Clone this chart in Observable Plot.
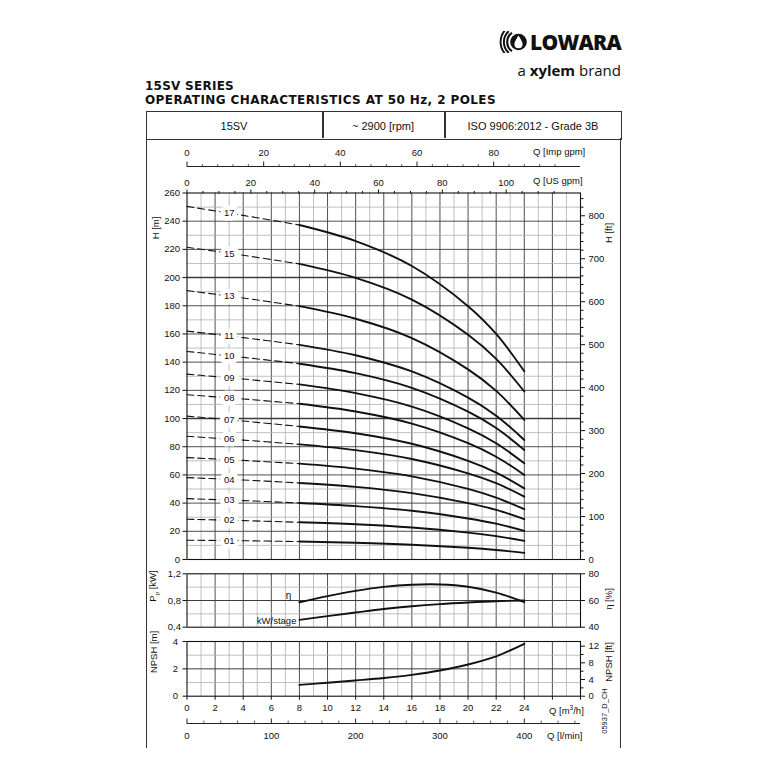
<!DOCTYPE html>
<html><head><meta charset="utf-8">
<script src="https://cdn.jsdelivr.net/npm/d3@7"></script>
<script src="https://cdn.jsdelivr.net/npm/@observablehq/plot@0.6"></script>
<style>
html,body{margin:0;padding:0;background:#fff;}
#root{position:relative;width:768px;height:768px;overflow:hidden;font-family:"Liberation Sans",Arial,sans-serif;color:#111;}
#root svg{position:absolute;left:0;}
.t{position:absolute;line-height:1;white-space:nowrap;}
</style></head><body><div id="root"></div>
<script>
// ---------------- DATA ----------------
const qHead = [0, 4, 8, 12, 16, 20, 22, 24];              // Q [m3/h]
const stageNames = ["01","02","03","04","05","06","07","08","09","10","11","13","15","17"];
const h01 = [13.7, 13.3, 12.75, 11.9, 10.5, 8.3, 6.75, 4.7];
const h02 = [28.6, 27.6, 26.4, 25.0, 22.7, 19.1, 16.6, 13.2];
const h03 = [43.2, 41.8, 40.1, 37.9, 34.6, 29.1, 25.4, 20.3];
const h04 = [58.1, 56.4, 54.3, 51.5, 47.1, 40.0, 35.2, 28.6];
const h05 = [72.3, 70.3, 68.0, 64.5, 59.0, 50.1, 43.9, 35.7];
const h06 = [87.4, 84.7, 81.7, 77.6, 71.3, 61.1, 54.1, 44.6];
const h07 = [101.7, 98.2, 94.4, 89.6, 82.1, 70.0, 61.7, 50.5];
const h08 = [116.9, 113.9, 110.5, 105.0, 96.4, 82.5, 72.9, 60.0];
const h09 = [131.5, 128.0, 124.2, 118.0, 108.5, 93.1, 82.5, 68.2];
const h10 = [147.6, 143.4, 138.9, 132.2, 121.8, 104.9, 93.3, 77.7];
const h11 = [162.0, 157.4, 152.3, 144.9, 133.4, 114.8, 102.0, 84.8];
const h13 = [190.8, 185.5, 179.7, 170.8, 157.1, 134.9, 119.6, 99.0];
const h15 = [221.5, 215.8, 209.7, 199.8, 184.4, 159.5, 142.3, 119.2];
const h17 = [250.5, 244.1, 237.3, 225.9, 208.2, 179.7, 160.0, 133.5];
const headSeries = [h01,h02,h03,h04,h05,h06,h07,h08,h09,h10,h11,h13,h15,h17];
const qDutyStart = 8;      // start of the solid (recommended) range
const labelQ = 3;          // where stage numbers sit

const qEff = [8, 10, 12, 14, 16, 18, 20, 22, 24];
const etaPct  = [58.7, 63.3, 67.2, 70.2, 71.8, 72.0, 70.3, 65.9, 58.7];
const kwStage = [0.51, 0.566, 0.62, 0.672, 0.714, 0.746, 0.770, 0.789, 0.80];
const npshM   = [0.83, 0.98, 1.15, 1.33, 1.56, 1.88, 2.32, 2.92, 3.83];

// tick labels
const hTicks = d3.range(0, 261, 20);
const hGridMinor = d3.range(10, 260, 20);
const hGridMajor = d3.range(20, 260, 20);
const ftMajor = d3.range(0, 801, 100);
const ftMinor = d3.range(0, 853, 20).filter(d => d % 100);
const usMajor = [0, 20, 40, 60, 80, 100];
const usMinor = d3.range(0, 121, 5).filter(d => d % 20);
const impMajor = [0, 20, 40, 60, 80];
const impMinor = d3.range(0, 101, 4).filter(d => d % 20);
const lminMajor = [0, 100, 200, 300, 400];
const lminMinor = d3.range(0, 461, 20).filter(d => d % 100);
const qMajorTicks = d3.range(0, 29, 2);
const qLabelMax = 24;
const qGridOdd = d3.range(1, 28, 2);
const qGridEven = d3.range(2, 28, 2);
const kwTicks = [0.4, 0.8, 1.2];
const kwGridMinor = [0.6, 1.0];
const kwGridMajor = [0.8];
const etaTicks = [40, 60, 80];
const npshTicks = [0, 2, 4];
const npshGridMinor = [1, 3];
const npshGridMajor = [2];
const npshFtMajor = [0, 4, 8, 12];
const npshFtMinor = [2, 6, 10];

// unit conversions
const IMP = 3.6662, USG = 4.4029, LMIN = 16.6667, FT = 0.3048;

// ---------------- helpers ----------------
const root = document.getElementById("root");
const FONT = "Liberation Sans, Arial, sans-serif";
const FX0 = 186.5, FX1 = 580;
const comma = d => d.toFixed(1).replace(".", ",");
const CURVE = "catmull-rom";

function addSvg(svg, top) { svg.style.top = top + "px"; root.appendChild(svg); }
function panel(opts) {
  return Plot.plot({
    width: 768, marginLeft: FX0, marginRight: 768 - FX1,
    x: {domain: [0, 28], axis: null},
    style: {fontFamily: FONT, fontSize: "9.5px", color: "#111", background: "transparent", overflow: "visible"},
    ...opts
  });
}
function gridX() {
  return [
    Plot.ruleX(qGridOdd, {stroke: "#b0b0b0", strokeWidth: 0.8}),
    Plot.ruleX(qGridEven, {stroke: "#3c3c3c", strokeWidth: 0.9})
  ];
}
function txt(html, x, y, o = {}) {
  const d = document.createElement("div");
  d.className = "t";
  d.innerHTML = html;
  d.style.left = x + "px"; d.style.top = y + "px";
  d.style.fontSize = (o.size || 9.5) + "px";
  if (o.weight) d.style.fontWeight = o.weight;
  if (o.family) d.style.fontFamily = o.family;
  const ax = o.anchor === "middle" ? "-50%" : o.anchor === "end" ? "-100%" : "0";
  d.style.transform = o.rotate ? `translate(-50%,-50%) rotate(${o.rotate}deg)` : `translate(${ax},-50%)`;
  root.appendChild(d);
  if (o.fit) {
    const w = d.getBoundingClientRect().width;
    const n = d.textContent.length;
    d.style.letterSpacing = ((o.fit - w) / (n)) + "px";
  }
  return d;
}

// ---------------- header ----------------
const logo = document.createElementNS("http://www.w3.org/2000/svg", "svg");
logo.setAttribute("width", 30); logo.setAttribute("height", 22);
logo.setAttribute("viewBox", "0 0 30 22");
logo.style.left = "498px"; logo.style.top = "31px";
function arcPath(cx, cy, r, a0, a1) {
  const p = a => [cx + r * Math.cos(a * Math.PI / 180), cy + r * Math.sin(a * Math.PI / 180)];
  const [x0, y0] = p(a0), [x1, y1] = p(a1);
  return `M${x0.toFixed(2)} ${y0.toFixed(2)} A${r} ${r} 0 0 0 ${x1.toFixed(2)} ${y1.toFixed(2)}`;
}
logo.innerHTML = `
 <circle cx="20.5" cy="11" r="8.3" fill="#111"/>
 <path d="M20.5 4.6 C18 8.8 16.4 11.2 16.4 13.2 A4.1 4.1 0 0 0 24.6 13.2 C24.6 11.2 23 8.8 20.5 4.6 Z" fill="#fff"/>
 <path d="${arcPath(20.5, 11, 11.3, -125, 125)}" fill="none" stroke="#111" stroke-width="2.1"/>
 <path d="${arcPath(20.5, 11, 14.6, -132, 132)}" fill="none" stroke="#111" stroke-width="2.0"/>
 <path d="${arcPath(20.5, 11, 17.9, -140, 140)}" fill="none" stroke="#111" stroke-width="1.9"/>`;
root.appendChild(logo);
txt("LOWARA", 530, 42, {size: 21, weight: 800, family: "Open Sans, sans-serif", fit: 91});
txt('a <b style="font-weight:700">xylem</b> brand', 621, 70, {size: 15, anchor: "end", family: "Open Sans, sans-serif"});
txt("15SV SERIES", 145, 86, {size: 12, weight: 700, family: "DejaVu Sans, sans-serif", fit: 89});
txt("OPERATING CHARACTERISTICS AT 50 Hz, 2 POLES", 145, 99.5, {size: 12, weight: 700, family: "DejaVu Sans, sans-serif", fit: 351});

// table + frame
const box = document.createElement("div");
box.style.cssText = "position:absolute;left:145.5px;top:110.5px;width:474px;height:27px;border:1.3px solid #333;";
root.appendChild(box);
for (const xv of [322.3, 444.3]) {
  const v = document.createElement("div");
  v.style.cssText = `position:absolute;left:${xv}px;top:111px;width:1.3px;height:27px;background:#333;`;
  root.appendChild(v);
}
for (const xv of [145.5, 619.8]) {
  const v = document.createElement("div");
  v.style.cssText = `position:absolute;left:${xv}px;top:138px;width:1.3px;height:610px;background:#333;`;
  root.appendChild(v);
}
txt("15SV", 234, 125.5, {size: 11, anchor: "middle"});
txt("~ 2900 [rpm]", 383, 125.5, {size: 11, anchor: "middle"});
txt("ISO 9906:2012 - Grade 3B", 533, 125.5, {size: 11, anchor: "middle"});

// ---------------- Imp gpm strip ----------------
addSvg(panel({
  height: 30, marginTop: 0, marginBottom: 0,
  y: {domain: [0, 30], range: [0, 30], axis: null},
  marks: [
    Plot.ruleY([26], {stroke: "#222", strokeWidth: 1}),
    Plot.ruleX(impMajor, {x: d => d / IMP, y1: 26, y2: 21.5, stroke: "#222"}),
    Plot.ruleX(impMinor, {x: d => d / IMP, y1: 26, y2: 24, stroke: "#222", strokeWidth: 0.7}),
    Plot.text(impMajor, {x: d => d / IMP, y: 12, text: d => d, fontSize: 9.5})
  ]
}), 140);
txt("Q [Imp gpm]", 533, 152, {size: 9.5});
txt("Q [US gpm]", 533, 181, {size: 9.5});

// ---------------- Head panel ----------------
const headRows = [];
const labelRows = [];
stageNames.forEach((s, i) => {
  const hs = headSeries[i];
  qHead.forEach((q, j) => headRows.push({stage: s, q, h: hs[j]}));
  const j0 = 0, j8 = qHead.indexOf(qDutyStart);
  labelRows.push({stage: s, q: labelQ, h: hs[j0] + (hs[j8] - hs[j0]) * (labelQ - qHead[j0]) / (qHead[j8] - qHead[j0])});
});
addSvg(panel({
  height: 410, marginTop: 32.5, marginBottom: 11,
  y: {domain: [0, 260], axis: null},
  marks: [
    ...gridX(),
    Plot.ruleY(hGridMinor, {stroke: "#b0b0b0", strokeWidth: 0.8}),
    Plot.ruleY(hGridMajor, {stroke: "#3c3c3c", strokeWidth: d => d === 200 || d === 100 ? 1.5 : 0.9}),
    Plot.line(headRows.filter(d => d.q <= qDutyStart), {x: "q", y: "h", z: "stage", stroke: "#111", strokeWidth: 1.1, strokeDasharray: "7,4", curve: CURVE}),
    Plot.line(headRows.filter(d => d.q >= qDutyStart), {x: "q", y: "h", z: "stage", stroke: "#111", strokeWidth: 1.9, curve: CURVE}),
    Plot.text(labelRows, {x: "q", y: "h", text: "stage", fill: "#111", stroke: "white", strokeWidth: 9, fontSize: 9.5}),
    Plot.frame({stroke: "#111", strokeWidth: 1.1}),
    Plot.axisY(hTicks, {anchor: "left", tickSize: 4, tickPadding: 3, label: null}),
    Plot.axisY(ftMajor.map(f => f * FT), {anchor: "right", tickSize: 4, tickPadding: 4, tickFormat: d => Math.round(d / FT), label: null}),
    Plot.axisY(ftMinor.map(f => f * FT), {anchor: "right", tickSize: 2.5, tickFormat: () => "", label: null}),
    Plot.axisX(usMajor.map(g => g / USG), {anchor: "top", tickSize: 4, tickPadding: 3, tickFormat: d => Math.round(d * USG), label: null}),
    Plot.axisX(usMinor.map(g => g / USG), {anchor: "top", tickSize: 2.5, tickFormat: () => "", label: null})
  ]
}), 160);
txt("H [m]", 155.5, 228, {size: 9.5, rotate: -90});
txt("H [ft]", 609, 233, {size: 9.5, rotate: -90});

// ---------------- Efficiency / power panel ----------------
const effRows = qEff.map((q, i) => ({q, eta: etaPct[i], kw: kwStage[i]}));
const etaToKw = e => 0.4 + (e - 40) / 40 * 0.8;
addSvg(panel({
  height: 70, marginTop: 7.3, marginBottom: 9.3,
  y: {domain: [0.4, 1.2], axis: null},
  marks: [
    ...gridX(),
    Plot.ruleY(kwGridMinor, {stroke: "#b0b0b0", strokeWidth: 0.8}),
    Plot.ruleY(kwGridMajor, {stroke: "#3c3c3c", strokeWidth: 1}),
    Plot.line(effRows, {x: "q", y: d => etaToKw(d.eta), stroke: "#111", strokeWidth: 1.9, curve: CURVE}),
    Plot.line(effRows, {x: "q", y: "kw", stroke: "#111", strokeWidth: 1.9, curve: CURVE}),
    Plot.text(effRows.slice(0, 1), {x: "q", y: d => etaToKw(d.eta), text: () => "η", dx: -8, dy: -6, textAnchor: "end", fontSize: 10}),
    Plot.text(effRows.slice(0, 1), {x: "q", y: "kw", text: () => "kW/stage", dx: -3, dy: 1, textAnchor: "end", fontSize: 9.5}),
    Plot.frame({stroke: "#111", strokeWidth: 1.1}),
    Plot.axisY(kwTicks, {anchor: "left", tickSize: 4, tickPadding: 2, tickFormat: comma, label: null}),
    Plot.axisY(etaTicks.map(etaToKw), {anchor: "right", tickSize: 4, tickPadding: 4, tickFormat: d => Math.round(40 + (d - 0.4) / 0.8 * 40), label: null})
  ]
}), 566);
txt("P<sub style='font-size:6px'>p</sub> [kW]", 153.5, 586, {size: 9.5, rotate: -90});
txt("η [%]", 609, 599, {size: 9.5, rotate: -90});

// ---------------- NPSH panel ----------------
const npshRows = qEff.map((q, i) => ({q, n: npshM[i]}));
addSvg(panel({
  height: 95, marginTop: 7, marginBottom: 33.3,
  y: {domain: [0, 4], axis: null},
  marks: [
    ...gridX(),
    Plot.ruleY(npshGridMinor, {stroke: "#b0b0b0", strokeWidth: 0.8}),
    Plot.ruleY(npshGridMajor, {stroke: "#3c3c3c", strokeWidth: 1}),
    Plot.line(npshRows, {x: "q", y: "n", stroke: "#111", strokeWidth: 1.9, curve: CURVE}),
    Plot.frame({stroke: "#111", strokeWidth: 1.1}),
    Plot.axisY(npshTicks, {anchor: "left", tickSize: 4, tickPadding: 5, label: null}),
    Plot.axisY(npshFtMajor.map(f => f * FT), {anchor: "right", tickSize: 4, tickPadding: 4, tickFormat: d => Math.round(d / FT), label: null}),
    Plot.axisY(npshFtMinor.map(f => f * FT), {anchor: "right", tickSize: 2.5, tickFormat: () => "", label: null}),
    Plot.axisX(qMajorTicks, {anchor: "bottom", tickSize: 4, tickPadding: 4, tickFormat: d => d <= qLabelMax ? d : "", label: null})
  ]
}), 634);
txt("NPSH [m]", 154, 652, {size: 9.5, rotate: -90});
txt("NPSH [ft]", 609, 662, {size: 9.5, rotate: -90});
txt("Q [m<sup style='font-size:6.5px'>3</sup>/h]", 549, 709.5, {size: 9.5});

// ---------------- l/min strip ----------------
addSvg(panel({
  height: 30, marginTop: 0, marginBottom: 0,
  y: {domain: [0, 30], range: [0, 30], axis: null},
  marks: [
    Plot.ruleY([9], {stroke: "#222", strokeWidth: 1}),
    Plot.ruleX(lminMajor, {x: d => d / LMIN, y1: 9, y2: 4.5, stroke: "#222"}),
    Plot.ruleX(lminMinor, {x: d => d / LMIN, y1: 9, y2: 6.5, stroke: "#222", strokeWidth: 0.7}),
    Plot.text(lminMajor, {x: d => d / LMIN, y: 21.5, text: d => d, fontSize: 9.5})
  ]
}), 714);
txt("Q [l/min]", 547, 735.5, {size: 9.5});
txt("05937_D_CH", 605, 711, {size: 7.5, rotate: -90});
</script>
</body></html>
